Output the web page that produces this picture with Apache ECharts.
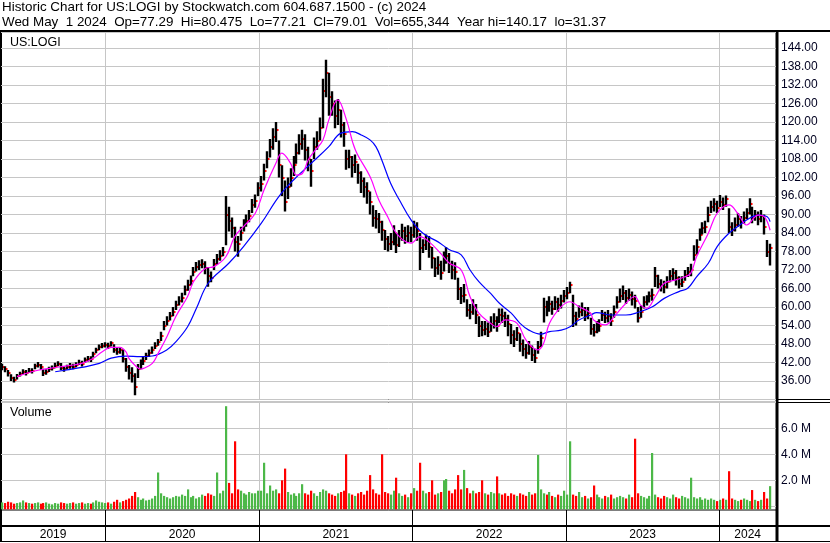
<!DOCTYPE html>
<html><head><meta charset="utf-8">
<script src="https://cdn.jsdelivr.net/npm/echarts@6/dist/echarts.min.js"></script>
<style>html,body{margin:0;padding:0;background:#fff}#c{width:830px;height:543px}</style>
</head><body><div id="c"></div>
<script>
// ---------- DATA (weekly) ----------
const firstWeek = '2019-05-01';
const closes = [
40.5,39.8,38.5,37.0,36.2,37.5,38.3,39.0,38.6,39.4,
39.2,40.8,41.3,40.5,38.5,38.9,39.8,40.2,41.0,41.6,
40.3,39.8,40.5,40.9,40.6,41.3,42.0,41.5,42.8,43.2,
43.0,44.6,46.0,47.0,47.5,47.8,47.4,48.2,46.2,45.5,
46.0,43.0,40.5,38.5,37.5,34.0,40.0,41.5,42.5,44.0,
45.0,46.0,47.5,48.5,50.5,54.0,55.5,57.0,58.5,60.5,
62.0,63.0,65.5,67.0,68.5,71.5,73.0,73.5,74.0,72.5,
70.0,69.5,74.0,75.5,76.5,78.0,90.0,88.0,85.5,81.0,
80.5,84.0,86.5,88.0,89.5,93.0,94.5,98.5,100.0,104.0,
108.0,112.0,115.0,117.5,106.0,102.0,94.0,99.0,102.0,106.0,
110.0,113.0,114.5,111.0,108.0,104.0,112.0,114.0,118.0,130.0,
136.0,128.0,126.0,122.0,124.0,119.0,116.0,108.0,108.5,106.0,
107.0,103.5,101.0,99.0,97.5,94.0,89.0,88.5,87.5,85.0,
82.0,80.5,81.0,84.0,80.0,82.5,84.5,83.0,84.0,83.5,
86.0,84.5,79.0,80.0,81.5,79.5,76.0,72.5,73.5,71.0,
75.0,76.5,74.0,72.0,71.5,66.0,63.5,64.0,59.0,58.5,
60.0,57.5,54.0,52.5,53.0,52.0,54.5,55.5,54.0,57.5,
57.0,56.0,54.5,51.0,49.5,51.5,48.0,46.5,45.0,47.0,
44.5,43.5,47.0,50.0,60.0,59.0,61.0,59.5,61.5,60.5,
62.0,63.5,64.5,67.0,57.0,56.0,58.5,59.0,57.5,58.0,
53.0,52.0,53.5,54.0,57.5,56.5,57.0,55.5,58.5,61.5,
63.5,64.5,63.0,64.0,62.5,62.0,56.5,58.5,61.5,62.0,
63.5,64.0,70.0,67.5,67.0,66.5,68.0,70.0,71.0,69.5,
67.5,68.0,70.5,71.5,72.0,77.0,79.5,83.5,85.5,86.0,
90.0,92.5,93.5,92.0,94.0,93.0,95.0,86.0,85.0,86.5,
88.5,87.5,89.0,90.5,93.5,89.0,90.0,88.5,89.5,86.0,
78.0,79.0];
const highs = [
41.6,40.8,39.6,38.2,37.4,38.3,39.0,39.8,39.6,40.2,
40.1,41.6,42.2,41.5,40.0,39.8,40.6,41.0,41.9,42.4,
41.8,40.7,41.3,41.8,41.6,42.1,42.9,42.6,43.6,44.1,
44.0,45.5,46.8,47.8,48.3,48.6,48.4,48.9,47.9,46.8,
47.0,46.2,43.5,41.2,40.5,38.5,41.5,43.0,44.0,45.2,
46.2,47.2,48.6,49.6,52.0,55.5,57.0,58.4,60.0,62.0,
63.5,64.6,67.0,68.8,70.2,73.0,74.6,75.2,75.5,74.8,
73.0,71.5,75.6,77.2,78.4,79.5,96.0,92.5,89.0,86.0,
83.0,86.0,88.5,90.0,91.5,95.0,96.5,100.5,102.5,106.5,
110.5,114.5,118.0,120.0,114.0,106.0,101.0,102.0,105.0,109.0,
113.0,116.0,117.5,116.0,112.0,108.0,115.0,117.0,121.5,134.0,
140.2,136.0,130.0,127.0,127.5,124.0,120.0,111.0,111.0,109.0,
109.5,106.5,104.0,102.0,100.5,97.5,93.0,91.5,90.5,88.0,
85.0,83.0,84.0,86.5,84.0,85.0,87.0,86.0,86.5,86.0,
88.0,87.5,84.0,82.0,83.5,83.0,79.5,76.0,76.5,75.0,
78.0,79.5,77.5,75.0,74.5,69.5,66.5,67.5,62.5,61.0,
62.5,61.0,57.0,55.5,55.5,55.0,57.0,58.0,57.0,59.5,
59.5,58.5,57.5,54.5,52.5,53.5,51.5,49.5,48.0,49.0,
47.5,46.5,49.0,52.0,63.0,62.0,63.5,62.0,63.5,63.0,
64.0,65.5,66.5,68.2,64.0,58.5,60.5,61.5,60.0,60.0,
56.5,54.5,55.5,56.0,59.0,58.5,59.0,58.0,60.5,63.5,
66.0,67.0,65.5,66.0,65.0,64.0,60.0,60.5,63.5,63.8,
65.0,66.0,73.0,70.5,69.0,68.5,70.0,72.0,72.6,72.0,
70.0,70.0,72.0,73.0,74.0,80.0,82.0,85.5,87.5,88.0,
92.5,94.5,95.3,94.5,96.3,95.5,96.2,92.0,87.5,89.0,
90.5,89.5,91.0,92.0,95.3,92.5,91.5,91.0,91.5,90.0,
81.7,80.5];
const lows = [
39.5,38.8,37.5,36.0,35.5,36.5,37.5,38.2,37.8,38.6,
38.4,39.8,40.4,39.6,37.6,38.0,38.9,39.4,40.1,40.8,
39.5,39.0,39.7,40.0,39.8,40.5,41.2,40.7,41.9,42.3,
42.2,43.6,45.0,46.0,46.6,46.9,46.4,47.2,45.2,44.5,
44.8,42.0,39.0,36.5,35.5,31.4,37.0,39.8,41.2,42.8,
43.8,44.8,46.4,47.4,49.0,52.5,54.0,55.6,57.0,59.0,
60.5,61.5,63.8,65.3,67.0,70.0,71.5,72.0,72.6,70.6,
66.6,68.0,72.0,73.8,75.0,76.5,80.0,84.5,82.5,78.0,
76.3,81.5,84.5,86.0,87.5,90.5,92.2,96.0,97.5,101.0,
105.0,108.5,111.0,113.5,102.0,96.0,91.0,95.0,99.0,102.5,
106.5,109.5,111.0,107.5,104.0,99.0,108.0,111.0,114.0,118.0,
128.0,122.0,122.0,118.0,119.0,115.0,112.0,104.5,105.0,102.0,
103.5,100.0,97.0,95.5,93.5,90.0,86.0,85.5,84.0,81.5,
78.5,78.0,78.5,80.0,77.5,79.5,81.5,80.5,81.0,81.0,
82.5,81.5,72.0,77.5,78.5,76.0,72.5,69.7,70.5,68.8,
71.5,74.0,71.0,69.0,68.8,62.3,61.0,61.5,56.8,56.0,
57.5,54.5,50.3,50.5,50.8,50.3,52.0,53.0,52.0,54.8,
54.8,53.5,50.5,48.0,47.0,49.0,45.5,44.0,43.2,44.5,
42.5,41.8,44.8,47.0,55.0,57.0,58.5,57.5,59.0,58.5,
59.5,61.5,62.5,64.5,53.5,54.0,56.5,57.0,55.5,56.0,
51.0,50.4,51.5,52.0,55.5,54.8,55.0,53.8,56.5,59.5,
61.5,62.3,61.0,62.0,60.5,59.5,55.0,56.5,59.5,60.5,
61.5,62.0,66.5,66.0,65.0,64.5,66.0,68.0,68.7,67.0,
66.0,66.5,68.5,69.7,70.0,75.0,77.0,81.5,83.5,84.0,
87.5,90.5,91.0,90.5,92.4,91.5,92.5,84.0,83.0,84.5,
86.0,85.5,87.0,88.5,90.0,87.2,88.0,86.5,87.5,83.5,
76.2,73.5];
const volumesM = [
0.3,0.25,0.35,0.3,0.2,0.25,0.3,0.45,0.3,0.25,
0.2,0.25,0.3,0.2,0.25,0.3,0.2,0.15,0.25,0.2,
0.3,0.25,0.2,0.25,0.3,0.2,0.25,0.3,0.2,0.25,
0.2,0.3,0.45,0.35,0.3,0.25,0.3,0.2,0.35,0.5,
0.3,0.4,0.5,0.6,0.8,1.1,0.7,0.5,0.6,0.45,
0.5,0.6,0.8,2.6,1.0,0.8,0.7,0.6,0.7,0.8,
0.75,0.9,0.8,1.3,0.7,0.8,0.6,0.7,0.9,0.8,
1.0,0.9,0.8,2.6,1.0,1.2,7.7,1.8,1.0,5.0,
1.3,1.2,1.0,0.9,1.1,1.0,1.0,1.2,1.2,3.35,
1.0,1.6,1.2,1.3,1.0,2.0,2.9,1.1,0.9,1.0,
0.8,1.0,1.7,1.0,0.9,1.2,1.0,0.8,1.1,1.3,
1.2,1.0,0.9,0.8,1.0,1.1,1.2,4.0,1.0,0.9,
0.8,1.0,1.1,0.9,1.2,2.4,1.3,1.0,0.9,4.0,
1.1,1.0,0.9,1.2,2.2,1.0,0.8,0.9,0.7,1.0,
1.4,1.2,3.35,1.2,1.0,1.1,2.0,0.9,1.0,1.1,
2.0,2.1,1.2,1.0,1.3,2.4,1.3,2.8,1.4,1.0,
1.2,1.0,1.1,2.0,1.0,0.9,1.1,1.0,2.3,1.0,
0.9,1.0,0.8,1.0,0.9,0.8,1.0,0.9,0.8,1.1,
0.9,1.0,3.95,1.3,1.0,0.9,1.1,0.8,0.7,0.9,
0.8,1.2,0.9,5.0,0.9,0.8,1.1,0.7,0.8,0.6,
0.7,1.6,0.9,0.7,0.6,0.8,0.7,0.9,0.6,0.7,
0.8,0.7,0.6,0.9,0.7,5.2,1.0,0.8,0.7,0.6,
0.8,4.1,0.9,0.7,0.6,0.8,0.7,0.6,0.9,0.7,
0.6,0.8,0.7,0.6,2.2,0.7,0.6,0.7,0.5,0.6,
0.5,0.6,0.5,0.4,0.5,0.6,0.5,2.7,0.6,0.5,
0.4,0.5,0.6,0.5,0.4,1.25,0.5,0.4,0.5,1.1,
0.6,1.55];
// moving averages: [week index, value]
const maMagenta = [[5,37.4],[10,39.0],[16,40.1],[22,40.9],[27,41.7],[31,43.4],[34,45.5],[37,46.9],[40,46.9],[42,45.5],[43,43.4],[45,41.2],[47,39.9],[48,40.1],[51,41.7],[53,45.0],[56,50.4],[59,56.9],[63,63.4],[65,68.2],[69,72.5],[72,73.1],[76,76.3],[79,82.8],[82,86.1],[86,90.4],[89,98.0],[93,106.6],[95,109.9],[98,106.6],[100,102.8],[102,103.3],[104,107.7],[106,110.4],[109,114.2],[111,120.7],[114,127.2],[117,120.7],[120,111.0],[125,102.3],[128,94.7],[131,89.3],[134,83.9],[139,80.7],[142,82.8],[145,81.2],[149,77.4],[152,74.2],[156,72.0],[159,63.3],[162,58.0],[166,54.7],[168,53.6],[171,55.8],[175,54.7],[178,49.3],[182,46.1],[184,48.2],[186,54.7],[190,60.1],[193,61.7],[196,60.1],[200,58.0],[201,55.8],[205,54.2],[208,56.9],[212,61.2],[215,63.4],[217,60.6],[219,59.6],[222,63.4],[225,67.7],[229,68.8],[232,69.8],[234,70.9],[236,76.3],[240,83.9],[243,90.4],[247,93.1],[250,90.4],[253,86.6],[257,89.8],[259,89.3],[261,84.9]];
const maBlue = [[18,39.0],[22,39.6],[27,40.4],[33,41.7],[37,43.4],[42,44.1],[47,43.9],[51,44.1],[56,46.1],[59,48.7],[63,53.6],[66,59.6],[70,67.7],[77,74.2],[82,79.6],[88,87.1],[94,95.8],[99,101.2],[105,106.6],[111,112.0],[115,116.3],[119,116.9],[122,115.8],[125,114.2],[127,112.0],[129,107.7],[132,100.1],[135,94.7],[139,88.2],[143,83.9],[148,81.2],[152,78.6],[156,76.9],[159,72.0],[162,68.2],[166,64.4],[169,61.2],[173,58.0],[176,54.7],[179,52.5],[183,51.2],[186,52.0],[190,52.5],[193,53.6],[196,55.8],[200,57.4],[202,58.2],[207,57.4],[212,57.4],[216,58.2],[221,60.1],[225,62.8],[230,65.0],[233,66.1],[236,69.8],[240,74.2],[243,79.6],[247,83.9],[250,86.1],[253,88.2],[257,89.8],[260,89.3],[261,87.7]];
const yearStarts = ['2020-01-01','2021-01-01','2022-01-01','2023-01-01','2024-01-01'];
const yearNames = ['2019','2020','2021','2022','2023','2024'];
const priceTickStep = 6;
const volTickStep = 2;
const headerLine1 = 'Historic Chart for US:LOGI by Stockwatch.com 604.687.1500 - (c) 2024';
const headerLine2 = 'Wed May  1 2024  Op=77.29  Hi=80.475  Lo=77.21  Cl=79.01  Vol=655,344  Year hi=140.17  lo=31.37';

// ---------- BUILD ----------
const DAY = 86400000;
const t0 = Date.parse(firstWeek + 'T00:00:00Z');
const weekT = closes.map((_, i) => t0 + i * 7 * DAY);
const xMin = Date.parse('2019-04-28T00:00:00Z');
const xMax = Date.parse('2024-05-15T00:00:00Z');
const yearT = yearStarts.map(s => Date.parse(s + 'T00:00:00Z'));

const ohlc = closes.map((c, i) => [weekT[i], highs[i], lows[i], c]);
const vols = volumesM.map((v, i) => [weekT[i], v, (i === 0 || closes[i] >= closes[i - 1]) ? 1 : 0]);
const magenta = maMagenta.map(p => [weekT[p[0]], p[1]]);
const blue = maBlue.map(p => [weekT[p[0]], p[1]]);
const bounds = [xMin].concat(yearT, [xMax]);
const yearMid = yearNames.map((n, i) => [(bounds[i] + bounds[i + 1]) / 2, 0.5, i]);

const FONT = 'Liberation Sans, Arial, sans-serif';
const GRID_C = '#c6c6c6';

function yearLineSeries(xi, yi, color, width, z) {
  return {
    type: 'custom', xAxisIndex: xi, yAxisIndex: yi, z: z, silent: true,
    data: yearT.map(t => [t, 0]),
    renderItem: function (params, api) {
      const x = Math.round(api.coord([api.value(0), api.value(1)])[0]) + 0.5;
      const cs = params.coordSys;
      return { type: 'line', shape: { x1: x, y1: cs.y, x2: x, y2: cs.y + cs.height },
        style: { stroke: color, lineWidth: width } };
    }
  };
}

const chart = echarts.init(document.getElementById('c'), null, { renderer: 'canvas' });
chart.setOption({
  animation: false,
  backgroundColor: '#ffffff',
  grid: [
    { left: 1, width: 775, top: 32, height: 367.5 },
    { left: 1, width: 775, top: 401, height: 105.3 },
    { left: 1, width: 775, top: 510, height: 31 }
  ],
  xAxis: [0, 1, 2].map(g => ({
    type: 'value', gridIndex: g, min: xMin, max: xMax,
    axisLine: { show: false }, axisTick: { show: false }, axisLabel: { show: false }, splitLine: { show: false }
  })),
  yAxis: [
    { type: 'value', gridIndex: 0, position: 'right', min: 30, max: 149.19, interval: priceTickStep,
      axisLine: { show: false }, axisTick: { show: false },
      axisLabel: { margin: 5, fontFamily: FONT, fontSize: 12, color: '#000020',
        formatter: v => (Math.abs(v - Math.round(v)) < 1e-6 && v > 30 && v < 149) ? v.toFixed(2) : '' },
      splitLine: { show: true, lineStyle: { color: GRID_C, width: 1 } } },
    { type: 'value', gridIndex: 1, position: 'right', min: 0, max: 8.1, interval: volTickStep,
      axisLine: { show: false }, axisTick: { show: false },
      axisLabel: { margin: 5, fontFamily: FONT, fontSize: 12, color: '#000020',
        formatter: v => (v > 0 && v < 8) ? v.toFixed(1) + ' M' : '' },
      splitLine: { show: true, lineStyle: { color: GRID_C, width: 1 } } },
    { type: 'value', gridIndex: 2, min: 0, max: 1, show: false }
  ],
  series: [
    yearLineSeries(0, 0, GRID_C, 1, 1),
    yearLineSeries(1, 1, GRID_C, 1, 1),
    yearLineSeries(2, 2, '#000', 1, 5),
    {
      type: 'custom', name: 'price', xAxisIndex: 0, yAxisIndex: 0, z: 3, data: ohlc, clip: true,
      renderItem: function (params, api) {
        const t = api.value(0);
        const h = api.coord([t, api.value(1)]);
        const l = api.coord([t, api.value(2)]);
        const c = api.coord([t, api.value(3)]);
        const x = Math.round(h[0]);
        return { type: 'group', children: [
          { type: 'rect', shape: { x: x - 1.2, y: h[1], width: 2.4, height: Math.max(1.5, l[1] - h[1]) }, style: { fill: '#000' } },
          { type: 'rect', shape: { x: x + 1, y: Math.round(c[1]) - 1, width: 1.5, height: 2 }, style: { fill: '#ff0000' } }
        ] };
      }
    },
    { type: 'line', xAxisIndex: 0, yAxisIndex: 0, z: 4, data: blue, showSymbol: false, smooth: 0.4,
      lineStyle: { color: '#0000ff', width: 1.2 } },
    { type: 'line', xAxisIndex: 0, yAxisIndex: 0, z: 4, data: magenta, showSymbol: false, smooth: 0.4,
      lineStyle: { color: '#ff00ff', width: 1.2 } },
    {
      type: 'custom', name: 'volume', xAxisIndex: 1, yAxisIndex: 1, z: 3, data: vols, clip: false,
      renderItem: function (params, api) {
        const p = api.coord([api.value(0), api.value(1)]);
        const cs = params.coordSys;
        const bottom = cs.y + cs.height + 3;
        const x = Math.round(p[0]);
        return { type: 'rect', shape: { x: x - 1, y: p[1], width: 2.2, height: bottom - p[1] },
          style: { fill: api.value(2) ? '#4cb848' : '#ff0000' } };
      }
    },
    {
      type: 'custom', name: 'years', xAxisIndex: 2, yAxisIndex: 2, z: 6, data: yearMid,
      renderItem: function (params, api) {
        const p = api.coord([api.value(0), 0.25]);
        return { type: 'text', x: p[0], y: p[1] + 1,
          style: { text: yearNames[api.value(2)], fontFamily: FONT, fontSize: 12, fill: '#000', align: 'center', verticalAlign: 'middle' } };
      }
    }
  ],
  graphic: [
    { type: 'text', left: 2, top: 1, style: { text: headerLine1, fontFamily: FONT, fontSize: 13.4, fill: '#000' } },
    { type: 'text', left: 2, top: 15.5, style: { text: headerLine2, fontFamily: FONT, fontSize: 13.4, fill: '#000' } },
    { type: 'text', left: 10, top: 36, style: { text: 'US:LOGI', fontFamily: FONT, fontSize: 12.5, fill: '#000' } },
    { type: 'text', left: 10, top: 406, style: { text: 'Volume', fontFamily: FONT, fontSize: 12.5, fill: '#000' } },
    // frame
    { type: 'line', shape: { x1: 0, y1: 31, x2: 830, y2: 31 }, style: { stroke: '#000', lineWidth: 2 } },
    { type: 'line', shape: { x1: 1, y1: 31, x2: 1, y2: 542 }, style: { stroke: '#000', lineWidth: 2 } },
    { type: 'line', shape: { x1: 777, y1: 31, x2: 777, y2: 542 }, style: { stroke: '#000', lineWidth: 3 } },
    { type: 'line', shape: { x1: 0, y1: 399.5, x2: 830, y2: 399.5 }, style: { stroke: '#000', lineWidth: 1 } },
    { type: 'line', shape: { x1: 0, y1: 402.5, x2: 830, y2: 402.5 }, style: { stroke: '#000', lineWidth: 1 } },
    { type: 'line', shape: { x1: 0, y1: 510, x2: 777, y2: 510 }, style: { stroke: '#000', lineWidth: 1 } },
    { type: 'line', shape: { x1: 0, y1: 526, x2: 830, y2: 526 }, style: { stroke: '#000', lineWidth: 2 } },
    { type: 'line', shape: { x1: 0, y1: 541.5, x2: 830, y2: 541.5 }, style: { stroke: '#000', lineWidth: 1 } }
  ]
});
</script></body></html>
